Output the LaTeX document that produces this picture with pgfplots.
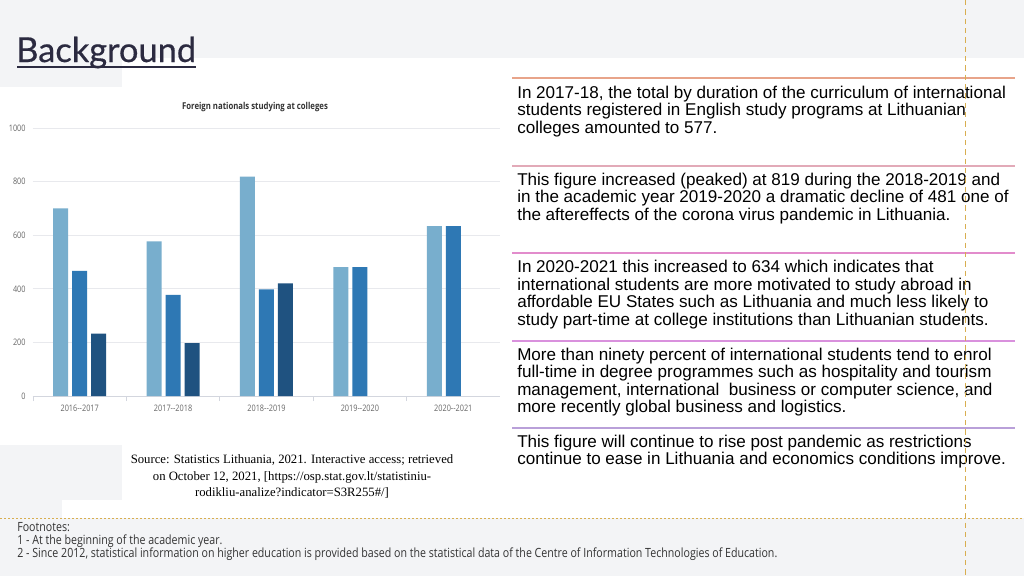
\documentclass[border=0pt]{standalone}
\usepackage{pgfplots}
\pgfplotsset{compat=1.18}
\usepackage{fontspec}
\setmainfont{Liberation Sans}
\newfontfamily\arial{Liberation Sans}
\newfontfamily\tnr{Liberation Serif}
\newfontfamily\cond[FakeStretch=0.82]{Open Sans}
\newfontfamily\foot[FakeStretch=0.84]{Open Sans}
\newfontfamily\head[FakeBold=0.5]{Lato}

\definecolor{slidegray}{HTML}{F3F4F6}
\definecolor{barLight}{HTML}{78AECD}
\definecolor{barMid}{HTML}{2E78B4}
\definecolor{barDark}{HTML}{1F5280}
\definecolor{gridgray}{HTML}{E8E9ED}
\definecolor{axisgray}{HTML}{D3D6DE}
\definecolor{ticktext}{HTML}{666666}
\definecolor{navy}{HTML}{2B2A40}
\definecolor{sepA}{HTML}{E8A48A}
\definecolor{sepB}{HTML}{E2AAB8}
\definecolor{sepC}{HTML}{E28CCC}
\definecolor{sepD}{HTML}{D991DD}
\definecolor{sepE}{HTML}{B9A0D9}
\definecolor{guide}{HTML}{D8AE50}

\begin{document}
\begin{tikzpicture}
% slide background, in pixel units (y downwards)
\begin{scope}[x=0.75pt,y=-0.75pt]
  \useasboundingbox (0,0) rectangle (1024,576);
  \fill[slidegray] (0,0) rectangle (1024,576);
  \fill[white] (122,58) rectangle (1024,518);
  \fill[white] (0,87) rectangle (122,445);
  \fill[white] (62,500) rectangle (122,518);

  % heading
  \node[anchor=base west, inner sep=0, text=navy, font=\head\fontsize{25.8pt}{28pt}\selectfont] at (16,62) {Background};
  \draw[navy, line width=1.1pt] (17,67) -- (196,67);

  % chart title
  \node[font=\cond\bfseries\fontsize{7.1pt}{8pt}\selectfont, text=black!80] at (255,107) {Foreign nationals studying at colleges};

  % source
  \node[align=center, font=\tnr\fontsize{9.55pt}{12.4pt}\selectfont, anchor=north] at (292,450)
    {Source: Statistics Lithuania, 2021. Interactive access; retrieved\\
     on October 12, 2021, [https://osp.stat.gov.lt/statistiniu-\\
     rodikliu-analize?indicator=S3R255\#/]};

  % separators on the right
  \draw[sepA, line width=1pt] (512,78) -- (1015,78);
  \draw[sepB, line width=1pt] (512,166) -- (1015,166);
  \draw[sepC, line width=1pt] (512,253) -- (1015,253);
  \draw[sepD, line width=1pt] (512,341) -- (1015,341);
  \draw[sepE, line width=1pt] (512,428) -- (1015,428);

  \tikzset{para/.style={anchor=base west, inner sep=0, font=\arial\fontsize{12.8pt}{14pt}\selectfont}}
  \node[para] at (517,98) {In 2017-18, the total by duration of the curriculum of international};
  \node[para] at (517,115.5) {students registered in English study programs at Lithuanian};
  \node[para] at (517,133) {colleges amounted to 577.};

  \node[para] at (517,185) {This figure increased (peaked) at 819 during the 2018-2019 and};
  \node[para] at (517,202.5) {in the academic year 2019-2020 a dramatic decline of 481 one of};
  \node[para] at (517,220) {the aftereffects of the corona virus pandemic in Lithuania.};

  \node[para] at (517,272.5) {In 2020-2021 this increased to 634 which indicates that};
  \node[para] at (517,290) {international students are more motivated to study abroad in};
  \node[para] at (517,307.5) {affordable EU States such as Lithuania and much less likely to};
  \node[para] at (517,325) {study part-time at college institutions than Lithuanian students.};

  \node[para] at (517,360) {More than ninety percent of international students tend to enrol};
  \node[para] at (517,377.5) {full-time in degree programmes such as hospitality and tourism};
  \node[para] at (517,395) {management, international\ \ business or computer science, and};
  \node[para] at (517,412.5) {more recently global business and logistics.};

  \node[para] at (517,447) {This figure will continue to rise post pandemic as restrictions};
  \node[para] at (517,464.5) {continue to ease in Lithuania and economics conditions improve.};

  % guides
  \draw[guide, line width=0.6pt, dash pattern=on 1.5pt off 1.5pt] (0,518) -- (1024,518);
  \draw[guide, line width=0.6pt, dash pattern=on 4pt off 3pt] (965,0) -- (965,576);

  % footnotes
  \tikzset{fn/.style={anchor=base west, inner sep=0, text=black!80, font=\foot\fontsize{9.5pt}{10pt}\selectfont}}
  \node[fn] at (17,531) {Footnotes:};
  \node[fn] at (17,544.5) {1 - At the beginning of the academic year.};
  \node[fn] at (17,557) {2 - Since 2012, statistical information on higher education is provided based on the statistical data of the Centre of Information Technologies of Education.};
\end{scope}

\begin{axis}[
    at={(24.75pt,-297pt)}, anchor=south west,
    scale only axis,
    width=350.25pt, height=201pt,
    xmin=-0.5, xmax=4.5, ymin=0, ymax=1000,
    ybar=3pt, bar width=11.25pt,
    axis x line=bottom, axis y line=left,
    x axis line style={-, draw=axisgray, line width=0.7pt},
    y axis line style={draw=none},
    xtick={0,1,2,3,4},
    xticklabels={2016--2017,2017--2018,2018--2019,2019--2020,2020--2021},
    minor xtick={-0.5,0.5,1.5,2.5,3.5},
    major tick length=0pt, minor tick length=3.75pt,
    tick align=outside,
    minor tick style={draw=axisgray, line width=0.6pt},
    ytick={0,200,...,1000},
    ymajorgrids, grid style={draw=gridgray, line width=0.6pt},
    /pgf/number format/assume math mode=true,
    /pgf/number format/set thousands separator={},
    ticklabel style={font=\cond\fontsize{6.7pt}{7pt}\selectfont, text=ticktext},
    yticklabel style={xshift=-2pt},
    xticklabel style={yshift=-3pt},
]
\addplot[draw=none, fill=barLight] coordinates {(0,700) (1,577) (2,819) (3,481) (4,634)};
\addplot[draw=none, fill=barMid] coordinates {(0,467) (1,377) (2,398) (3,481) (4,634)};
\addplot[draw=none, fill=barDark] coordinates {(0,233) (1,197) (2,420)};
\end{axis}
\end{tikzpicture}
\end{document}
